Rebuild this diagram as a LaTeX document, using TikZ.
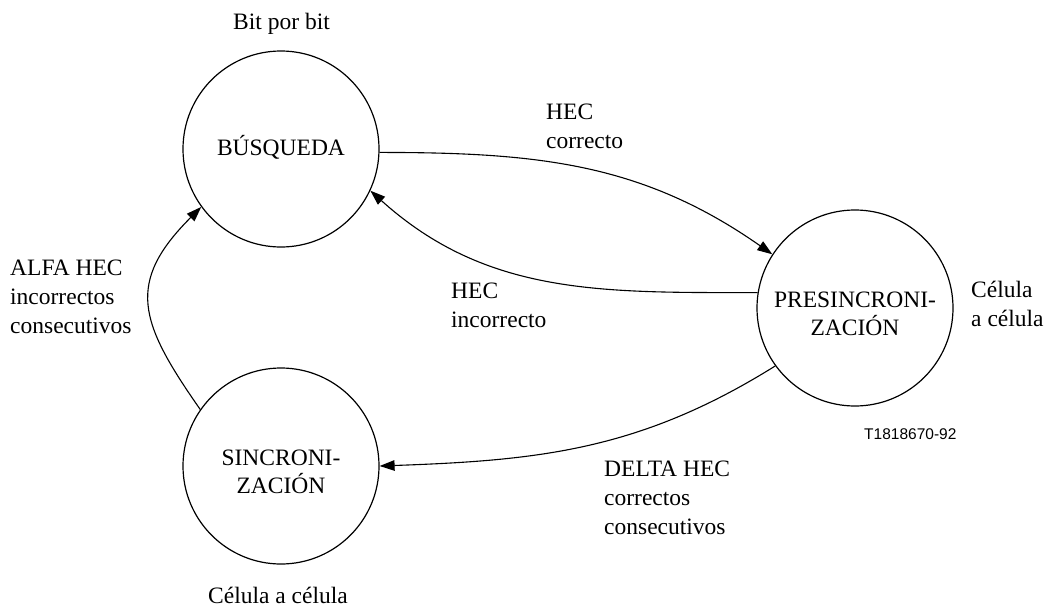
\documentclass[tikz,border=0pt]{standalone}
\usepackage{fontspec}
\setmainfont{Liberation Serif}
\newfontfamily\arialfont{Liberation Sans}
\usetikzlibrary{arrows.meta}
\begin{document}
\begin{tikzpicture}[x=1pt,y=1pt,
  state/.style={draw, circle, line width=1.2pt, minimum size=196pt, inner sep=0pt, align=center, font=\fontsize{23.5}{28}\selectfont},
  twoline/.style={text height=54pt, text depth=0pt},
  lbl/.style={anchor=base west, inner sep=0pt, align=left, font=\fontsize{23.5}{28.8}\selectfont},
  conn/.style={line width=1.1pt, -{Triangle[length=15pt,width=10.5pt]}}
]
\useasboundingbox (0,0) rectangle (1047,-608);
\node[state, text height=16pt, text depth=4pt] (bus) at (281,-149) {BÚSQUEDA};
\node[state, twoline] (pre) at (855,-308) {PRESINCRONI-\\ZACIÓN};
\node[state, twoline] (sin) at (281,-466) {SINCRONI-\\ZACIÓN};

\node[lbl] (tbit) at (233,-29) {Bit por bit};
\node[lbl] (tcor) at (546,-148) {HEC\\correcto};
\node[lbl] (tinc) at (451,-327) {HEC\\incorrecto};
\node[lbl] (tcel) at (971,-326) {Célula\\a célula};
\node[lbl] (tdel) at (604,-534) {DELTA HEC\\correctos\\consecutivos};
\node[lbl] (talf) at (10,-333) {ALFA HEC\\incorrectos\\consecutivos};
\node[lbl] (tcel2) at (208,-603) {Célula a célula};
\node[anchor=base west, inner sep=0pt, font=\arialfont\fontsize{15.5}{18}\selectfont] (tref) at (864,-439) {T1818670-92};

\draw[conn] (bus.-2) to[out=0, in=145] (pre.147);
\draw[conn] (pre.171) to[out=180, in=-42] (bus.-25);
\draw[conn] (pre.216) to[out=212, in=2] (sin.0);
\draw[conn] (sin.145) to[out=125, in=225, looseness=1.35] (bus.216);
\end{tikzpicture}
\end{document}
